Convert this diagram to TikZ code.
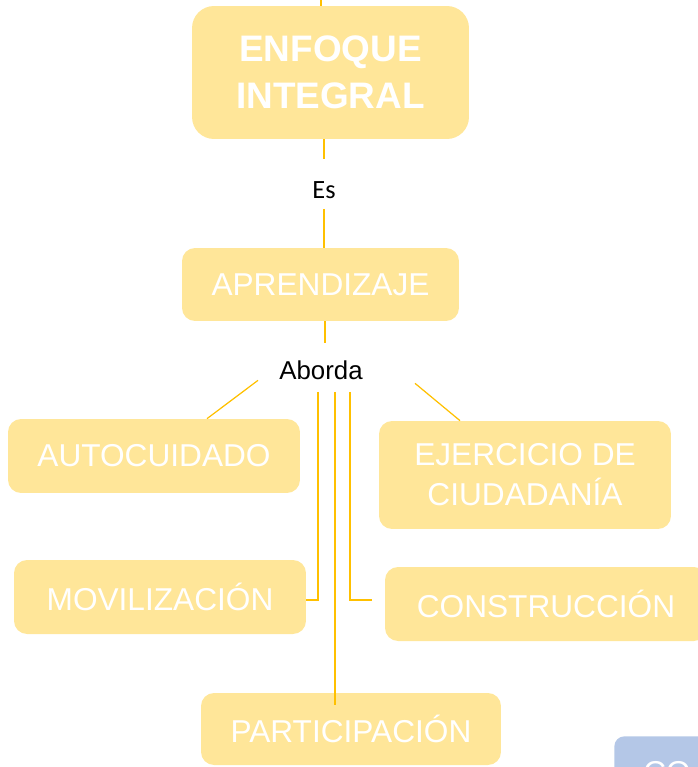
\documentclass[tikz,border=0pt]{standalone}
\usepackage{fontspec}
\setmainfont{Liberation Sans}
\newfontfamily\calibrifont{Carlito}
\definecolor{boxfill}{HTML}{FFE699}
\definecolor{linkline}{HTML}{FFC000}
\definecolor{bluefill}{HTML}{B4C7E7}

\begin{document}
\begin{tikzpicture}[x = 0.02cm, y = -0.02cm, every node/.style = {inner sep = 0pt},
	box/.style = {rectangle, rounded corners = 0.26cm, fill = boxfill, text = white, align = center, font = \fontsize{18}{22.7}\selectfont},
	link/.style = {draw = linkline, line width = 0.7pt},
	thick link/.style = {draw = linkline, line width = 1.7pt}]

	\useasboundingbox (0, 0) rectangle (697, 767);

	\node (ENF) at (330.5,  72.5) [box, minimum width = 5.54cm, minimum height = 2.66cm, rounded corners = 0.44cm, font = \bfseries\fontsize{21}{26.6}\selectfont] {ENFOQUE\\INTEGRAL};
	\node (APR) at (320.5, 284.5) [box, minimum width = 5.54cm, minimum height = 1.46cm] {APRENDIZAJE};
	\node (AUT) at (154,   456)   [box, minimum width = 5.84cm, minimum height = 1.48cm] {AUTOCUIDADO};
	\node (EJE) at (525,   475)   [box, minimum width = 5.84cm, minimum height = 2.16cm] {EJERCICIO DE\\CIUDADANÍA};
	\node (MOV) at (160,   597)   [box, minimum width = 5.84cm, minimum height = 1.48cm] {MOVILIZACIÓN};
	\node (CON) at (546,   604)   [box, minimum width = 6.44cm, minimum height = 1.48cm] {CONSTRUCCIÓN};
	\node (PAR) at (351,   729)   [box, minimum width = 6.00cm, minimum height = 1.44cm] {PARTICIPACIÓN};
	\node (BLU) at (614,   736)   [box, anchor = north west, fill = bluefill, align = left, text width = 2cm, inner xsep = 0.58cm, minimum height = 1.44cm, rounded corners = 0.2cm] {CO};
	\node (es)  at (324,   190)   [font = \calibrifont\fontsize{15}{17}\selectfont] {Es};
	\node (abo) at (321,   370)   [font = \fontsize{14.7}{17}\selectfont] {Aborda};
	\coordinate (top) at (321, 0);

	\draw[thick link] (top) -- (top |- ENF.north);
	\draw[thick link] (ENF.south -| es) -- ([shift = {(0, -22)}]es.north);
	\draw[thick link] ([shift = {(0, 10)}]es.south) -- (APR.north -| es);
	\draw[thick link] ([shift = {(4, 0)}]APR.south -| abo) -- ([shift = {(4, -17)}]abo.north);

	\foreach \from/\to/\dx in {{-63, 0.5}/AUT/53, {94, 3.5}/EJE/-65}
		\path ([shift = {(\from)}]abo.south) edge [link] ([shift = {(\dx, 0)}]\to.north);

	\draw[link] ([shift = {(-3, 12)}]abo.south) |- ([shift = {(0, 3)}]MOV.east);
	\draw[link] ([shift = {(14, 12)}]abo.south) -- ([shift = {(14, 12)}]abo.south |- PAR.north);
	\draw[link] ([shift = {(29, 12)}]abo.south) |- ([shift = {(-13, -4)}]CON.west);

\end{tikzpicture}
\end{document}
